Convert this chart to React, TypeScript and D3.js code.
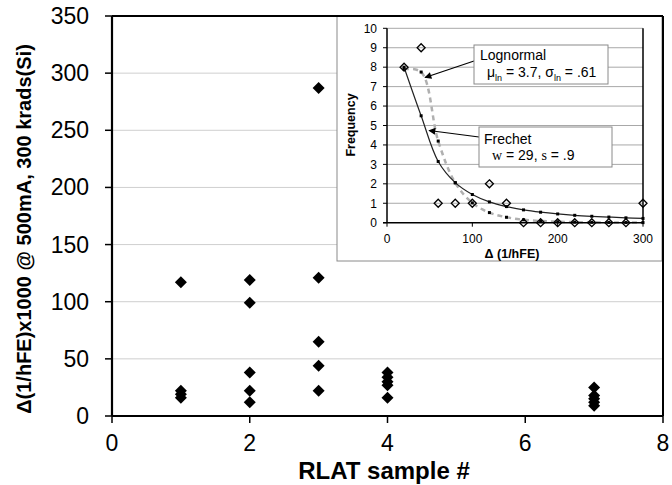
import React from "react";
import * as d3 from "d3";

// Main chart data
const sampleIds = [1, 1, 1, 1, 2, 2, 2, 2, 2, 3, 3, 3, 3, 3, 4, 4, 4, 4, 4, 7, 7, 7, 7, 7];
const deltaValues = [117, 22, 19, 16, 119, 99, 38, 22, 12, 287, 121, 65, 44, 22, 38, 34, 30, 27, 16, 25, 18, 15, 12, 9];
const mainXTicks = [0, 2, 4, 6, 8];
const mainYTicks = [0, 50, 100, 150, 200, 250, 300, 350];

// Inset histogram data
const binCenters = [20, 40, 60, 80, 100, 120, 140, 160, 180, 200, 220, 240, 260, 280, 300];
const frequencies = [8, 9, 1, 1, 1, 2, 1, 0, 0, 0, 0, 0, 0, 0, 1];
const frechetFit = [8, 5.5, 3.15, 2.06, 1.45, 1.07, 0.83, 0.66, 0.54, 0.45, 0.38, 0.33, 0.29, 0.25, 0.22];
const lognormalFit = [7.9, 7.75, 4.2, 2.05, 1.02, 0.52, 0.28, 0.15, 0.085, 0.05, 0.03, 0.02, 0.012, 0.008, 0.005];
const insetXTicks = [0, 100, 200, 300];
const insetYTicks = [0, 1, 2, 3, 4, 5, 6, 7, 8, 9, 10];

const FONT = "'Liberation Sans', Arial, sans-serif";

const diamond = (r: number) => `M0,${-r}L${r},0L0,${r}L${-r},0Z`;

export default function App() {
  const x = d3.scaleLinear().domain([0, 8]).range([112, 663]);
  const y = d3.scaleLinear().domain([0, 350]).range([416, 16]);

  const ix = d3.scaleLinear().domain([0, 300]).range([387, 643]);
  const iy = d3.scaleLinear().domain([0, 10]).range([222.7, 28.3]);

  const fLine = d3
    .line<number>()
    .x((_, i) => ix(binCenters[i]))
    .y((d) => iy(d))
    .curve(d3.curveCatmullRom.alpha(0.5));

  return (
    <svg
      width={672}
      height={485}
      style={{ position: "absolute", left: 0, top: 0, background: "#fff" }}
      fontFamily={FONT}
    >
      <defs>
        <marker id="arr" viewBox="0 0 10 10" refX="9" refY="5" markerWidth="9" markerHeight="7" orient="auto" markerUnits="userSpaceOnUse">
          <path d="M0,0L10,5L0,10Z" fill="#000" />
        </marker>
      </defs>
      <rect x={0} y={0} width={672} height={485} fill="#fff" />

      {/* main grid */}
      {mainYTicks.filter((t) => t > 0 && t < 350).map((t) => (
        <line key={t} x1={x(0)} x2={x(8)} y1={y(t)} y2={y(t)} stroke="#cfcfcf" strokeWidth={1} />
      ))}

      {/* main data */}
      {deltaValues.map((v, i) => (
        <path key={i} d={diamond(6)} transform={`translate(${x(sampleIds[i])},${y(v)})`} fill="#000" />
      ))}

      {/* inset */}
      <rect x={337} y={16} width={325} height={245} fill="#fff" stroke="#8a8a8a" strokeWidth={1} />
      {insetYTicks.filter((t) => t > 0).map((t) => (
        <line key={t} x1={ix(0)} x2={ix(300)} y1={iy(t)} y2={iy(t)} stroke="#a8a8a8" strokeWidth={1} />
      ))}
      {/* lognormal */}
      <path d={fLine(lognormalFit) || ""} fill="none" stroke="#b0b0b0" strokeWidth={2.5} strokeDasharray="5,4" />
      {lognormalFit.map((v, i) => (
        <rect key={i} x={ix(binCenters[i]) - 1.5} y={iy(v) - 1.5} width={3} height={3} fill="#000" />
      ))}
      {/* frechet */}
      <path d={fLine(frechetFit) || ""} fill="none" stroke="#222" strokeWidth={1.2} />
      {frechetFit.map((v, i) => (
        <rect key={i} x={ix(binCenters[i]) - 1.5} y={iy(v) - 1.5} width={3} height={3} fill="#000" />
      ))}
      {/* inset axes */}
      <line x1={ix(0)} x2={ix(0)} y1={iy(10)} y2={iy(0)} stroke="#000" strokeWidth={1.5} />
      <line x1={ix(300)} x2={ix(300)} y1={iy(10)} y2={iy(0)} stroke="#000" strokeWidth={1.5} />
      <line x1={ix(0) - 4} x2={ix(300)} y1={iy(0)} y2={iy(0)} stroke="#000" strokeWidth={1.5} />
      {insetYTicks.map((t) => (
        <g key={t}>
          <line x1={ix(0) - 4} x2={ix(0)} y1={iy(t)} y2={iy(t)} stroke="#000" strokeWidth={1} />
          <text x={377} y={iy(t) + 4.3} textAnchor="end" fontSize={12}>
            {t}
          </text>
        </g>
      ))}
      {insetXTicks.map((t) => (
        <g key={t}>
          <line x1={ix(t)} x2={ix(t)} y1={iy(0)} y2={iy(0) + 4} stroke="#000" strokeWidth={1} />
          <text x={ix(t)} y={243} textAnchor="middle" fontSize={12}>
            {t}
          </text>
        </g>
      ))}
      {/* histogram points */}
      {frequencies.map((v, i) => (
        <path key={i} d={diamond(4)} transform={`translate(${ix(binCenters[i])},${iy(v)})`} fill="#fff" fillOpacity={0} stroke="#000" strokeWidth={1.3} />
      ))}
      <text x={512} y={258} textAnchor="middle" fontSize={12.5} fontWeight="bold">
        Δ (1/hFE)
      </text>
      <text transform="translate(355,125) rotate(-90)" textAnchor="middle" fontSize={12.5} fontWeight="bold">
        Frequency
      </text>

      {/* callouts */}
      <line x1={474} y1={61} x2={425} y2={77.5} stroke="#000" strokeWidth={1.2} markerEnd="url(#arr)" />
      <rect x={474} y={45} width={134} height={39} fill="#fff" stroke="#8a8a8a" strokeWidth={1} />
      <text x={480} y={60} fontSize={14}>Lognormal</text>
      <text x={487} y={77} fontSize={14}>
        μ<tspan fontSize={9} dy={4}>ln</tspan>
        <tspan dy={-4}> = 3.7, σ</tspan>
        <tspan fontSize={9} dy={4}>ln</tspan>
        <tspan dy={-4}> = .61</tspan>
      </text>

      <line x1={479} y1={137} x2={429} y2={130.5} stroke="#000" strokeWidth={1.2} markerEnd="url(#arr)" />
      <rect x={479} y={127} width={133} height={40} fill="#fff" stroke="#8a8a8a" strokeWidth={1} />
      <text x={484} y={144} fontSize={14}>Frechet</text>
      <text x={492} y={160} fontSize={14}>
        <tspan fontFamily="'Liberation Serif', 'Times New Roman', serif">w</tspan> = 29,{" "}
        <tspan fontFamily="'Liberation Serif', 'Times New Roman', serif">s</tspan> = .9
      </text>

      {/* main frame & axes */}
      <line x1={x(0)} x2={x(8)} y1={y(350)} y2={y(350)} stroke="#000" strokeWidth={2} />
      <line x1={x(8)} x2={x(8)} y1={y(350)} y2={y(0)} stroke="#000" strokeWidth={2} />
      <line x1={x(0)} x2={x(0)} y1={y(350)} y2={y(0)} stroke="#000" strokeWidth={2.2} />
      <line x1={x(0)} x2={x(8)} y1={y(0)} y2={y(0)} stroke="#000" strokeWidth={2.2} />
      {mainYTicks.map((t) => (
        <g key={t}>
          <line x1={x(0) - 7} x2={x(0)} y1={y(t)} y2={y(t)} stroke="#000" strokeWidth={1.5} />
          <text x={89} y={y(t) + 8} textAnchor="end" fontSize={23}>
            {t}
          </text>
        </g>
      ))}
      {mainXTicks.map((t) => (
        <g key={t}>
          <line x1={x(t)} x2={x(t)} y1={y(0)} y2={y(0) + 7} stroke="#000" strokeWidth={1.5} />
          <text x={x(t)} y={451} textAnchor="middle" fontSize={23}>
            {t}
          </text>
        </g>
      ))}
      <text x={384} y={479} textAnchor="middle" fontSize={24} fontWeight="bold">
        RLAT sample #
      </text>
      <text transform="translate(31,229) rotate(-90)" textAnchor="middle" fontSize={20} fontWeight="bold">
        Δ(1/hFE)x1000 @ 500mA, 300 krads(Si)
      </text>
    </svg>
  );
}
